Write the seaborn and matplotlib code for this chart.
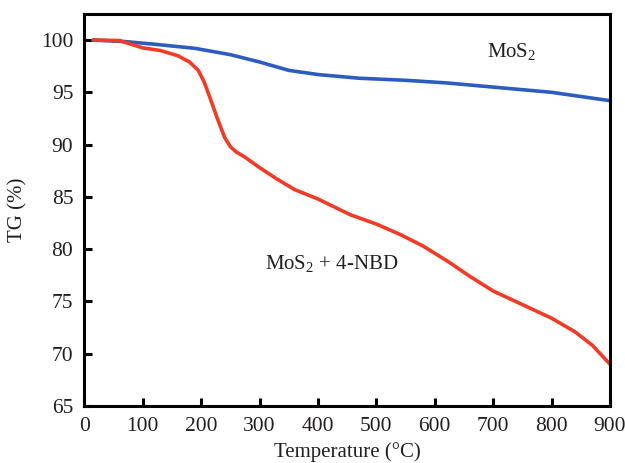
import matplotlib
matplotlib.use("Agg")
import matplotlib.pyplot as plt
import seaborn as sns
import pandas as pd

temp_mos2 = [15, 70, 120, 190, 250, 300, 350, 400, 470, 550, 620, 700, 800, 850, 900]
tg_mos2 = [100.0, 99.85, 99.6, 99.2, 98.6, 97.9, 97.1, 96.7, 96.35, 96.15, 95.9, 95.5, 95.0, 94.6, 94.2]

temp_nbd = [15, 60, 80, 100, 130, 160, 180, 195, 205, 215, 227, 240, 250, 260, 275, 300, 330, 360, 400, 455, 500, 541, 580, 626, 660, 700, 750, 800, 840, 870, 900]
tg_nbd = [100.0, 99.95, 99.6, 99.25, 99.0, 98.5, 97.9, 97.1, 96.0, 94.5, 92.6, 90.7, 89.8, 89.3, 88.8, 87.8, 86.7, 85.7, 84.8, 83.3, 82.4, 81.4, 80.3, 78.7, 77.4, 76.0, 74.7, 73.4, 72.1, 70.8, 69.0]

sample_mos2 = "MoS$_2$"
sample_nbd = "MoS$_2$ + 4-NBD"

df = pd.concat([
    pd.DataFrame({"Temperature": temp_mos2, "TG": tg_mos2, "Sample": sample_mos2}),
    pd.DataFrame({"Temperature": temp_nbd, "TG": tg_nbd, "Sample": sample_nbd}),
])

sns.set_theme(style="ticks")
plt.rcParams["font.family"] = ["Liberation Serif", "DejaVu Serif"]
plt.rcParams["mathtext.fontset"] = "custom"
plt.rcParams["mathtext.rm"] = "Liberation Serif"
plt.rcParams["mathtext.it"] = "Liberation Serif:italic"

txt = "#231f20"
fig, ax = plt.subplots(figsize=(6.25, 4.63), dpi=100)
fig.subplots_adjust(left=0.135, right=0.976, top=0.97, bottom=0.123)

sns.lineplot(data=df, x="Temperature", y="TG", hue="Sample",
             palette={sample_mos2: "#2d5cc0", sample_nbd: "#f23b26"},
             linewidth=2.6, legend=False, ax=ax, sort=False)
for line in ax.lines:
    line.set_solid_joinstyle("round")
    line.set_solid_capstyle("round")

ax.set_xlim(0, 900)
ax.set_ylim(65, 102.5)
ax.set_xticks(range(0, 901, 100))
ax.set_yticks(range(65, 101, 5))
ax.tick_params(direction="in", length=6, width=2.2, labelsize=15.5, color="black",
               labelcolor=txt, pad=8)
for s in ax.spines.values():
    s.set_linewidth(2.2)
    s.set_color("black")
ax.set_xlabel("Temperature (°C)", fontsize=15, labelpad=4, color=txt)
ax.set_ylabel("TG (%)", fontsize=15, labelpad=10, color=txt)

ax.text(690, 98.9, sample_mos2, fontsize=15, va="center", ha="left", color=txt)
ax.text(310, 78.6, sample_nbd, fontsize=15, va="center", ha="left", color=txt)

fig.savefig("out.png", dpi=100)
